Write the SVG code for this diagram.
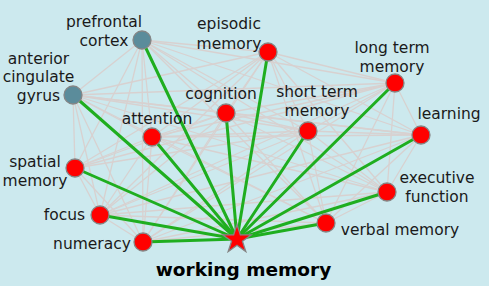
<svg xmlns="http://www.w3.org/2000/svg" width="489" height="286" viewBox="0 0 489 286">
<style>
.bg{fill:#cce9ee}
.g line{stroke:#d8d1d0;stroke-width:1.3}
.e line{stroke:#1fae1f;stroke-width:3;stroke-linecap:round}
.n{fill:#ff0000;stroke:#858585;stroke-width:1.3}
.b{fill:#5b8c9b;stroke:#858585;stroke-width:1.3}
text{font-family:"DejaVu Sans",Verdana,sans-serif;font-size:15.5px;fill:#1a1a1a;text-anchor:middle}
.t{font-weight:bold;font-size:18.5px;fill:#000}
</style>
<rect class="bg" width="489" height="286"/>
<g id="connectors">
<g class="g">
<line x1="142" y1="40" x2="73" y2="95"/><line x1="142" y1="40" x2="268" y2="52"/><line x1="142" y1="40" x2="395" y2="83"/><line x1="142" y1="40" x2="226" y2="113"/><line x1="142" y1="40" x2="308" y2="131"/><line x1="142" y1="40" x2="152" y2="137"/><line x1="142" y1="40" x2="421" y2="135"/><line x1="142" y1="40" x2="75" y2="168"/><line x1="142" y1="40" x2="100" y2="215"/><line x1="142" y1="40" x2="143" y2="242"/><line x1="142" y1="40" x2="387" y2="192"/><line x1="142" y1="40" x2="326" y2="223"/>
<line x1="73" y1="95" x2="268" y2="52"/><line x1="73" y1="95" x2="395" y2="83"/><line x1="73" y1="95" x2="226" y2="113"/><line x1="73" y1="95" x2="308" y2="131"/><line x1="73" y1="95" x2="152" y2="137"/><line x1="73" y1="95" x2="421" y2="135"/><line x1="73" y1="95" x2="75" y2="168"/><line x1="73" y1="95" x2="100" y2="215"/><line x1="73" y1="95" x2="143" y2="242"/><line x1="73" y1="95" x2="387" y2="192"/><line x1="73" y1="95" x2="326" y2="223"/>
<line x1="268" y1="52" x2="395" y2="83"/><line x1="268" y1="52" x2="226" y2="113"/><line x1="268" y1="52" x2="308" y2="131"/><line x1="268" y1="52" x2="152" y2="137"/><line x1="268" y1="52" x2="421" y2="135"/><line x1="268" y1="52" x2="75" y2="168"/><line x1="268" y1="52" x2="100" y2="215"/><line x1="268" y1="52" x2="143" y2="242"/><line x1="268" y1="52" x2="387" y2="192"/><line x1="268" y1="52" x2="326" y2="223"/>
<line x1="395" y1="83" x2="226" y2="113"/><line x1="395" y1="83" x2="308" y2="131"/><line x1="395" y1="83" x2="152" y2="137"/><line x1="395" y1="83" x2="421" y2="135"/><line x1="395" y1="83" x2="75" y2="168"/><line x1="395" y1="83" x2="100" y2="215"/><line x1="395" y1="83" x2="143" y2="242"/><line x1="395" y1="83" x2="387" y2="192"/><line x1="395" y1="83" x2="326" y2="223"/>
<line x1="226" y1="113" x2="308" y2="131"/><line x1="226" y1="113" x2="152" y2="137"/><line x1="226" y1="113" x2="421" y2="135"/><line x1="226" y1="113" x2="75" y2="168"/><line x1="226" y1="113" x2="100" y2="215"/><line x1="226" y1="113" x2="143" y2="242"/><line x1="226" y1="113" x2="387" y2="192"/><line x1="226" y1="113" x2="326" y2="223"/>
<line x1="308" y1="131" x2="152" y2="137"/><line x1="308" y1="131" x2="421" y2="135"/><line x1="308" y1="131" x2="75" y2="168"/><line x1="308" y1="131" x2="100" y2="215"/><line x1="308" y1="131" x2="143" y2="242"/><line x1="308" y1="131" x2="387" y2="192"/><line x1="308" y1="131" x2="326" y2="223"/>
<line x1="152" y1="137" x2="421" y2="135"/><line x1="152" y1="137" x2="75" y2="168"/><line x1="152" y1="137" x2="100" y2="215"/><line x1="152" y1="137" x2="143" y2="242"/><line x1="152" y1="137" x2="387" y2="192"/><line x1="152" y1="137" x2="326" y2="223"/>
<line x1="421" y1="135" x2="100" y2="215"/><line x1="421" y1="135" x2="143" y2="242"/><line x1="421" y1="135" x2="387" y2="192"/><line x1="421" y1="135" x2="326" y2="223"/>
<line x1="75" y1="168" x2="100" y2="215"/><line x1="75" y1="168" x2="143" y2="242"/>
<line x1="100" y1="215" x2="143" y2="242"/><line x1="100" y1="215" x2="387" y2="192"/><line x1="100" y1="215" x2="326" y2="223"/>
<line x1="143" y1="242" x2="387" y2="192"/><line x1="143" y1="242" x2="326" y2="223"/>
<line x1="387" y1="192" x2="326" y2="223"/>
</g>
<g class="e">
<line x1="237" y1="239" x2="142" y2="40"/><line x1="237" y1="239" x2="73" y2="95"/><line x1="237" y1="239" x2="268" y2="52"/><line x1="237" y1="239" x2="395" y2="83"/><line x1="237" y1="239" x2="226" y2="113"/><line x1="237" y1="239" x2="308" y2="131"/><line x1="237" y1="239" x2="152" y2="137"/><line x1="237" y1="239" x2="421" y2="135"/><line x1="237" y1="239" x2="75" y2="168"/><line x1="237" y1="239" x2="100" y2="215"/><line x1="237" y1="239" x2="143" y2="242"/><line x1="237" y1="239" x2="387" y2="192"/><line x1="237" y1="239" x2="326" y2="223"/>
</g>
</g>
<g id="prefrontal-cortex"><circle class="b" cx="142" cy="40" r="9"/><text x="104" y="27">prefrontal</text><text x="104" y="46">cortex</text></g>
<g id="anterior-cingulate-gyrus"><circle class="b" cx="73" cy="95" r="9"/><text x="38.5" y="63.5">anterior</text><text x="38.5" y="82">cingulate</text><text x="38.5" y="100.5">gyrus</text></g>
<g id="episodic-memory"><circle class="n" cx="268" cy="52" r="9"/><text x="229" y="29">episodic</text><text x="229" y="48.5">memory</text></g>
<g id="long-term-memory"><circle class="n" cx="395" cy="83" r="9"/><text x="392" y="52.5">long term</text><text x="392" y="71.5">memory</text></g>
<g id="cognition"><circle class="n" cx="226" cy="113" r="9"/><text x="221" y="98.5">cognition</text></g>
<g id="short-term-memory"><circle class="n" cx="308" cy="131" r="9"/><text x="317" y="97">short term</text><text x="317" y="115.5">memory</text></g>
<g id="attention"><circle class="n" cx="152" cy="137" r="9"/><text x="157" y="124">attention</text></g>
<g id="learning"><circle class="n" cx="421" cy="135" r="9"/><text x="449" y="118.5">learning</text></g>
<g id="spatial-memory"><circle class="n" cx="75" cy="168" r="9"/><text x="35" y="166.5">spatial</text><text x="35" y="185.5">memory</text></g>
<g id="focus"><circle class="n" cx="100" cy="215" r="9"/><text x="64.5" y="220">focus</text></g>
<g id="numeracy"><circle class="n" cx="143" cy="242" r="9"/><text x="92" y="249">numeracy</text></g>
<g id="executive-function"><circle class="n" cx="387" cy="192" r="9"/><text x="437" y="182.5">executive</text><text x="437" y="201.5">function</text></g>
<g id="verbal-memory"><circle class="n" cx="326" cy="223" r="9"/><text x="400" y="235">verbal memory</text></g>
<g id="working-memory"><polygon class="n" transform="translate(237 239.5)" points="0,-15 3.37,-4.64 14.27,-4.64 5.45,1.77 8.82,12.14 0,5.73 -8.82,12.14 -5.45,1.77 -14.27,-4.64 -3.37,-4.64"/><text class="t" x="243.5" y="276">working memory</text></g>
</svg>
